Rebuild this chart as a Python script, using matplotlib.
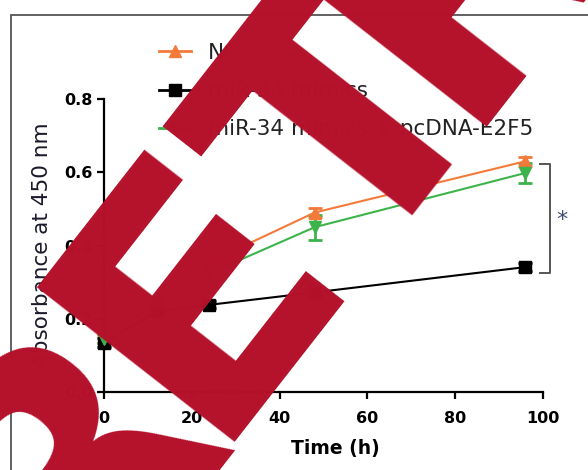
import matplotlib
matplotlib.use("Agg")
import matplotlib.pyplot as plt
import numpy as np
from matplotlib.patches import Rectangle
from matplotlib.lines import Line2D

plt.rcParams['font.family'] = ['DejaVu Sans']

# time points (h)
time_h = [0, 12, 24, 48, 96]

# absorbance at 450 nm
nc_vals = [0.145, 0.25, 0.355, 0.49, 0.63]
nc_err = [0.01, 0.01, 0.01, 0.012, 0.012]
mimic_vals = [0.135, 0.22, 0.238, 0.272, 0.341]
mimic_err = [0.012, 0.01, 0.01, 0.01, 0.01]
rescue_vals = [0.145, 0.246, 0.324, 0.45, 0.598]
rescue_err = [0.012, 0.012, 0.015, 0.034, 0.027]

labels = ['NC', 'miR-34 mimics', 'miR-34 mimics + pcDNA-E2F5']
colors = ['#f47a3a', '#000000', '#3cb44b']
markers = ['^', 's', 'v']

x_ticks = [0, 20, 40, 60, 80, 100]
y_ticks = [0.0, 0.2, 0.4, 0.6, 0.8]

W, H = 588, 470
fig = plt.figure(figsize=(W / 100, H / 100), dpi=100)
ax = fig.add_axes([104 / W, 1 - 392 / H, 439 / W, 293 / H])

series = [(nc_vals, nc_err), (mimic_vals, mimic_err), (rescue_vals, rescue_err)]
handles = []
for (vals, err), c, m, lab in zip(series, colors, markers, labels):
    ax.errorbar(time_h, vals, yerr=err, color=c, marker=m, markersize=8,
                linewidth=1.5, capsize=5, capthick=2, elinewidth=2,
                clip_on=False, zorder=3)
    handles.append(Line2D([], [], color=c, marker=m, markersize=8, linewidth=2, label=lab))

ax.set_xlim(0, 100)
ax.set_ylim(0, 0.8)
ax.set_xticks(x_ticks)
ax.set_yticks(y_ticks)
ax.set_yticklabels(['%.1f' % v for v in y_ticks])
for s in ['top', 'right']:
    ax.spines[s].set_visible(False)
for s in ['left', 'bottom']:
    ax.spines[s].set_linewidth(1.6)
ax.tick_params(axis='both', direction='out', length=5, width=1.6)
ax.tick_params(axis='x', pad=9)
ax.tick_params(axis='y', pad=3)
for lb in ax.get_xticklabels() + ax.get_yticklabels():
    lb.set_fontsize(11.5)
    lb.set_fontweight('bold')

ax.set_xlabel('Time (h)', fontsize=13.5, fontweight='bold')
ax.xaxis.set_label_coords(0.526, -0.16)
ax.set_ylabel('Absorbance at 450 nm', fontsize=15.5, color='#1a1a2a', labelpad=9)

# significance bracket
ax.plot([99.4, 101.6, 101.6, 99.4], [0.623, 0.623, 0.325, 0.325],
        color='#555555', linewidth=1.4, clip_on=False)
ax.text(104.3, 0.47, '*', fontsize=16, color='#3f4f6f', ha='center', va='center')

leg = ax.legend(handles=handles, loc='upper left', bbox_to_anchor=(148 / W, 1 - 32 / H),
                bbox_transform=fig.transFigure, frameon=False, fontsize=15.5,
                handlelength=1.5, handletextpad=0.8, labelspacing=0.85, borderpad=0)
for t in leg.get_texts():
    t.set_color('#222222')

# outer frame of the figure panel
fig.patches.append(Rectangle((11 / W, -0.1), 1.2, 1 - 15 / H + 0.1,
                             transform=fig.transFigure, fill=False,
                             edgecolor='#555555', linewidth=1.3))

# retraction stamp across the figure, letters spaced a bit tighter than the font
angle = 52
size = 248
stamp = dict(rotation=angle, rotation_mode='anchor', ha='left', va='baseline',
             fontsize=size, fontweight='bold', family='DejaVu Sans',
             color='#b5112b', zorder=10)
em = size * 100 / 72
d = np.array([np.cos(np.radians(angle)), -np.sin(np.radians(angle))])
base = np.array([40, 651])
pieces = [('R', base + np.array([24, -22])),
          ('ET', base + 0.770 * em * d),
          ('RACTED', base + ((0.770 + 0.683 + 0.682) * em - 60) * d + np.array([0, 8]))]
for txt, (px, py) in pieces:
    fig.text(px / W, 1 - py / H, txt, **stamp)

fig.savefig('out.png', dpi=100)
